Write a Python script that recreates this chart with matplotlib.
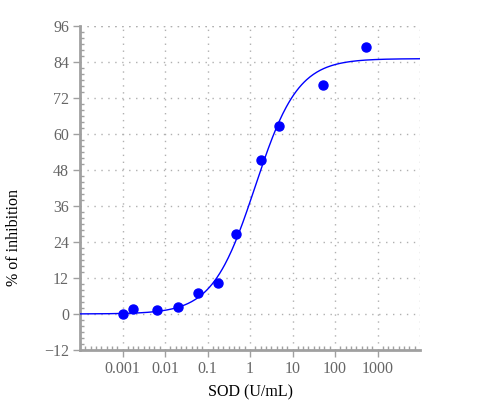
import numpy as np
import matplotlib
matplotlib.use("Agg")
import matplotlib.pyplot as plt
from matplotlib.ticker import FixedLocator, NullFormatter

# measured points (SOD U/mL vs % inhibition)
sod = [0.001, 0.0018, 0.0065, 0.02, 0.06, 0.18, 0.47, 1.83, 4.85, 53, 537]
inhib = [0.0, 1.7, 1.3, 2.2, 7.0, 10.4, 26.7, 51.2, 62.7, 76.1, 88.8]

# 4PL fit parameters
bottom, top, ec50, hill = 0.0, 85.0, 1.33, 0.865

x_ticks = [0.001, 0.01, 0.1, 1, 10, 100, 1000]
x_labels = ["0.001", "0.01", "0.1", "1", "10", "100", "1000"]
y_ticks = [-12, 0, 12, 24, 36, 48, 60, 72, 84, 96]

plt.rcParams["font.family"] = ["Liberation Serif", "DejaVu Serif"]

fig = plt.figure(figsize=(5, 4), dpi=100)
ax = fig.add_axes([0.16, 0.125, 0.68, 0.811])

xs = np.logspace(-4, 4, 400)
ys = bottom + (top - bottom) / (1 + (ec50 / xs) ** hill)
ax.plot(xs, ys, color="#0000ff", lw=1.0, zorder=3)
ax.plot(sod, inhib, "o", color="#0000ff", ms=6.5, zorder=4)

ax.set_xscale("log")
ax.set_xlim(1e-4, 1e4)
ax.set_ylim(-12, 96)

ax.xaxis.set_major_locator(FixedLocator(x_ticks))
ax.set_xticklabels(x_labels)
minor_x = [10 ** (k + j / 8) for k in range(-4, 4) for j in range(1, 8)]
ax.xaxis.set_minor_locator(FixedLocator(minor_x))
ax.xaxis.set_minor_formatter(NullFormatter())
ax.set_yticks(y_ticks)
ax.yaxis.set_minor_locator(FixedLocator(np.arange(-12, 97, 2)))

grey = "#a0a0a0"
for s in ["top", "right"]:
    ax.spines[s].set_visible(False)
for s in ["left", "bottom"]:
    ax.spines[s].set_color(grey)
    ax.spines[s].set_linewidth(2)

ax.tick_params(which="major", direction="out", length=5, width=1, color=grey,
               labelcolor="#666666", labelsize=11.5, pad=3)
ax.tick_params(which="minor", direction="in", length=3, width=1, color=grey)

ax.grid(True, which="major", color="#b0b0b0", linestyle=(0, (1, 4)), lw=1)
# grid lines along the right and top edges
ax.axvline(1e4, color="#b0b0b0", linestyle=(0, (1, 4)), lw=1)
ax.axhline(96, color="#b0b0b0", linestyle=(0, (1, 4)), lw=1)

ax.set_xlabel("SOD (U/mL)", fontsize=11.5, labelpad=5)
fig.text(14 / 500, 1 - 237 / 400, "% of inhibition", rotation=90,
         fontsize=11.5, ha="center", va="center")

fig.savefig("out.png", dpi=100)
